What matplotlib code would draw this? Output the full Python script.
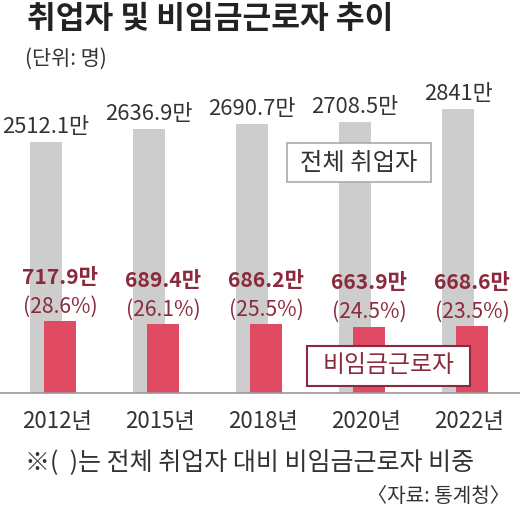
import matplotlib
matplotlib.use("Agg")
import matplotlib.pyplot as plt
from matplotlib.patches import Rectangle
import numpy as np

years       = ["2012년", "2015년", "2018년", "2020년", "2022년"]
total_emp   = [2512.1, 2636.9, 2690.7, 2708.5, 2841.0]
total_lbl   = ["2512.1만", "2636.9만", "2690.7만", "2708.5만", "2841만"]
nonwage     = [717.9, 689.4, 686.2, 663.9, 668.6]
nonwage_lbl = ["717.9만", "689.4만", "686.2만", "663.9만", "668.6만"]
share_lbl   = ["(28.6%)", "(26.1%)", "(25.5%)", "(24.5%)", "(23.5%)"]

W, H = 520, 507
GRAY     = "#cdcdcd"
RED      = "#e04a63"
DARKRED  = "#8b2a3c"
TXT      = "#333333"
KR       = "Noto Sans CJK KR"

plt.rcParams["font.family"] = [KR, "DejaVu Sans"]


def fx(px):
    return px / W


def fy(py):
    return 1 - py / H


fig = plt.figure(figsize=(W / 100, H / 100), dpi=100)
fig.patch.set_facecolor("white")

# axes: baseline at y=393px, 0.1 px per 만, group spacing 103 px
ax = fig.add_axes([0, (H - 393) / H, 1, 300 / H])
ax.set_ylim(0, 3000)
x = np.arange(len(years))
ax.set_xlim(-53 / 103, (W - 53) / 103)

off = 0.068
bw = 0.31
ax.bar(x - off, total_emp, width=bw, color=GRAY, zorder=1)
ax.bar(x + off, nonwage, width=bw, color=RED, zorder=2)

for i in range(len(years)):
    ax.annotate(total_lbl[i], (x[i] - off, total_emp[i]), xytext=(0, 6.5),
                textcoords="offset points", ha="center", va="baseline",
                fontsize=15.8, color=TXT)
    ax.annotate(share_lbl[i], (x[i] + off, nonwage[i]), xytext=(0, 6),
                textcoords="offset points", ha="center", va="baseline",
                fontsize=15.2, color=DARKRED)
    ax.annotate(nonwage_lbl[i], (x[i] + off, nonwage[i]), xytext=(0, 27),
                textcoords="offset points", ha="center", va="baseline",
                fontsize=15.2, color=DARKRED, fontweight="bold")

for s in ["top", "right", "left"]:
    ax.spines[s].set_visible(False)
ax.spines["bottom"].set_color("#999999")
ax.spines["bottom"].set_linewidth(1.2)
ax.set_yticks([])
ax.set_xticks(x + 0.04)
ax.set_xticklabels(years, fontsize=16, color=TXT)
ax.tick_params(axis="x", length=0, pad=12)
ax.patch.set_alpha(0)

# legend boxes
fig.add_artist(Rectangle((fx(287), fy(182)), fx(431) - fx(287), fy(143) - fy(182),
                         transform=fig.transFigure, facecolor="white",
                         edgecolor="#aaaaaa", linewidth=1.2, zorder=5))
fig.text(fx(359), fy(163), "전체 취업자", ha="center", va="center",
         fontsize=17.5, color=TXT, zorder=6)
fig.add_artist(Rectangle((fx(307), fy(386)), fx(470) - fx(307), fy(346) - fy(386),
                         transform=fig.transFigure, facecolor="white",
                         edgecolor=DARKRED, linewidth=1.5, zorder=5))
fig.text(fx(388.5), fy(366), "비임금근로자", ha="center", va="center",
         fontsize=17.2, color=DARKRED, fontweight="medium", zorder=6)

# titles and notes
fig.text(fx(27), fy(3), "취업자 및 비임금근로자 추이", ha="left", va="top",
         fontsize=22.5, fontweight="bold", color="#222222")
fig.text(fx(25), fy(48), "(단위: 명)", ha="left", va="top", fontsize=15, color=TXT)
fig.text(fx(25), fy(449), "※(  )는 전체 취업자 대비 비임금근로자 비중", ha="left", va="top",
         fontsize=18, color=TXT)
fig.text(fx(510), fy(486), "〈자료: 통계청〉", ha="right", va="top", fontsize=14.5, color=TXT)

fig.savefig("out.png", dpi=100, facecolor="white")
